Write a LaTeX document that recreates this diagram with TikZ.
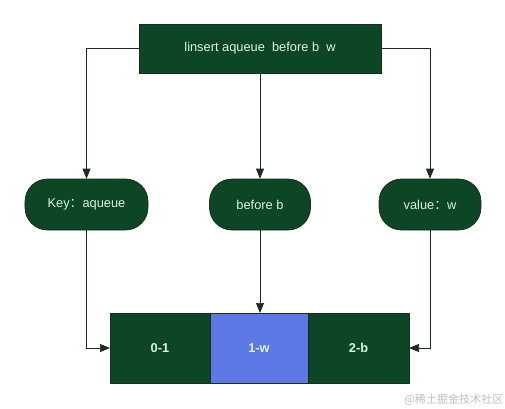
\documentclass[tikz,border=0pt]{standalone}
\usepackage{fontspec}
\setmainfont{Liberation Sans}
\newfontfamily\cjkfont{Noto Sans CJK SC}
\usetikzlibrary{arrows.meta,positioning}
\definecolor{deepgreen}{HTML}{0C4624}
\definecolor{paletxt}{HTML}{DDF2E0}
\definecolor{edgeline}{HTML}{1C2B20}
\definecolor{cellblue}{HTML}{5C78E4}
\newcommand{\fwcolon}{{\cjkfont ：}}
\tikzset{
  % Command box
  cmd/.style={draw=edgeline,fill=deepgreen,text=paletxt,minimum width=4.84cm,
              minimum height=0.98cm,font=\fontsize{7.3}{9}\selectfont},
  % Argument pills
  arg/.style={draw=edgeline,fill=deepgreen,text=paletxt,rounded corners=0.45cm,
              minimum height=1.02cm,font=\fontsize{7.3}{9}\selectfont},
  % List cells
  cell/.style={draw=edgeline,fill=deepgreen,text=paletxt,minimum width=2.0cm,
               minimum height=1.4cm,outer sep=0pt,font=\fontsize{7.3}{9}\selectfont\bfseries},
  % Connectors
  fl/.style={-{Triangle[length=2mm,width=1.6mm]},edgeline,thin}
}
\begin{document}
\begin{tikzpicture}
  \useasboundingbox (0,0) rectangle (10.1,-8.16);

  % Command
  \node[cmd] (cmd) at (5.2,-0.97) {linsert aqueue\ \ before b\ \ w};

  % Arguments
  \node[arg,minimum width=2.46cm] (key) at (1.73,-4.09) {Key\fwcolon aqueue};
  \node[arg,minimum width=2.02cm] (pos) at (5.2,-4.09)  {before b};
  \node[arg,minimum width=2.04cm] (val) at (8.6,-4.09)  {value\fwcolon w};

  % List
  \node[cell] (c0) at (3.2,-6.96) {0-1};
  \node[cell,fill=cellblue,minimum width=1.96cm,right=0pt of c0] (c1) {1-w};
  \node[cell,minimum width=2.02cm,right=0pt of c1] (c2) {2-b};

  \draw[fl] (cmd.west) -| (key.north);
  \draw[fl] (cmd.south) -- (pos.north);
  \draw[fl] (cmd.east) -| (val.north);

  \draw[fl] (key.south) |- (c0.west);
  \draw[fl] (pos.south) -- (pos.south |- c1.north);
  \draw[fl] (val.south) |- (c2.east);

  \node[text=black!25,font=\cjkfont\fontsize{6.3}{7}\selectfont] (mark) at (9.08,-8.0) {@稀土掘金技术社区};
\end{tikzpicture}
\end{document}
